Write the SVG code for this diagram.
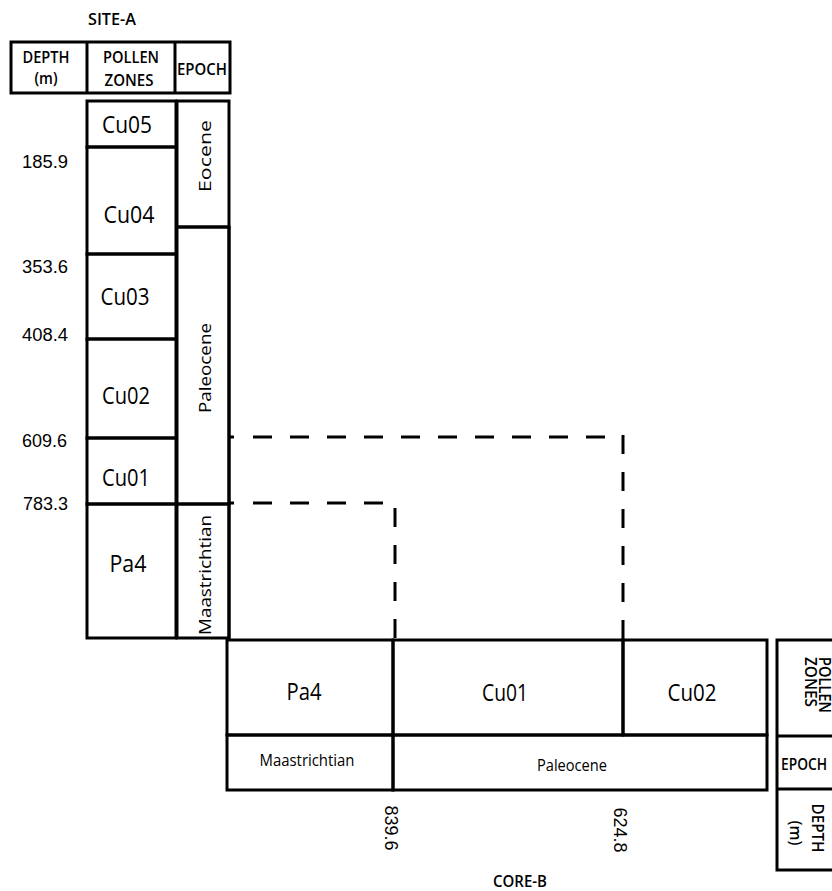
<svg xmlns="http://www.w3.org/2000/svg" width="832" height="891" viewBox="0 0 832 891">
<style>
.box{fill:none;stroke:#000;stroke-width:3}
.dash{fill:none;stroke:#000;stroke-width:3;stroke-dasharray:19 18}
.lbl{font-family:"Open Sans","Noto Sans",sans-serif;fill:#000;text-anchor:middle}
.num{font-family:"Liberation Sans",Arial,sans-serif;fill:#000;font-size:18px}
.z{font-size:23px}
.h{font-size:16px;font-weight:600}
.s{font-size:16px}
.e{font-size:17px}
</style>
<rect width="832" height="891" fill="#fff"/>
<g id="site-a-title"><text class="lbl h" x="112" y="25" textLength="48" lengthAdjust="spacingAndGlyphs">SITE-A</text></g>
<g id="site-a-header">
<rect class="box" x="11" y="42" width="219" height="51"/>
<line class="box" x1="87" y1="42" x2="87" y2="93"/>
<line class="box" x1="175" y1="42" x2="175" y2="93"/>
<text class="lbl h" x="46" y="63" textLength="47" lengthAdjust="spacingAndGlyphs">DEPTH</text>
<text class="lbl h" x="46" y="84" textLength="23" lengthAdjust="spacingAndGlyphs">(m)</text>
<text class="lbl h" x="131" y="63" textLength="56" lengthAdjust="spacingAndGlyphs">POLLEN</text>
<text class="lbl h" x="129" y="86" textLength="49" lengthAdjust="spacingAndGlyphs">ZONES</text>
<text class="lbl h" x="202" y="75" textLength="50" lengthAdjust="spacingAndGlyphs">EPOCH</text>
</g>
<g id="site-a-depths">
<text class="num" x="22" y="168" textLength="46" lengthAdjust="spacingAndGlyphs">185.9</text>
<text class="num" x="22" y="273" textLength="46" lengthAdjust="spacingAndGlyphs">353.6</text>
<text class="num" x="22" y="341" textLength="46" lengthAdjust="spacingAndGlyphs">408.4</text>
<text class="num" x="22" y="447" textLength="45" lengthAdjust="spacingAndGlyphs">609.6</text>
<text class="num" x="23" y="510" textLength="45" lengthAdjust="spacingAndGlyphs">783.3</text>
</g>
<g id="a-cu05"><rect class="box" x="87" y="101" width="89" height="46"/><text class="lbl z" x="127" y="133" textLength="50" lengthAdjust="spacingAndGlyphs">Cu05</text></g>
<g id="a-cu04"><rect class="box" x="87" y="147" width="89" height="107"/><text class="lbl z" x="129" y="223" textLength="51" lengthAdjust="spacingAndGlyphs">Cu04</text></g>
<g id="a-cu03"><rect class="box" x="87" y="254" width="89" height="85"/><text class="lbl z" x="125" y="305" textLength="49" lengthAdjust="spacingAndGlyphs">Cu03</text></g>
<g id="a-cu02"><rect class="box" x="87" y="339" width="89" height="99"/><text class="lbl z" x="126" y="404" textLength="48" lengthAdjust="spacingAndGlyphs">Cu02</text></g>
<g id="a-cu01"><rect class="box" x="87" y="438" width="89" height="66"/><text class="lbl z" x="126" y="486" textLength="48" lengthAdjust="spacingAndGlyphs">Cu01</text></g>
<g id="a-pa4"><rect class="box" x="87" y="504" width="89" height="134"/><text class="lbl z" x="128" y="572" textLength="37" lengthAdjust="spacingAndGlyphs">Pa4</text></g>
<g id="a-eocene"><rect class="box" x="177" y="101" width="52" height="126"/><text class="lbl e" transform="translate(211,156) rotate(-90)" textLength="72" lengthAdjust="spacingAndGlyphs">Eocene</text></g>
<g id="a-paleocene"><rect class="box" x="177" y="227" width="52" height="277"/><text class="lbl e" transform="translate(211,368) rotate(-90)" textLength="90" lengthAdjust="spacingAndGlyphs">Paleocene</text></g>
<g id="a-maastrichtian"><rect class="box" x="177" y="504" width="52" height="134"/><text class="lbl e" transform="translate(211,575) rotate(-90)" textLength="120" lengthAdjust="spacingAndGlyphs">Maastrichtian</text></g>
<g id="b-pa4"><rect class="box" x="227" y="640" width="166" height="95"/><text class="lbl z" x="304" y="700" textLength="35" lengthAdjust="spacingAndGlyphs">Pa4</text></g>
<g id="b-cu01"><rect class="box" x="393" y="640" width="230" height="95"/><text class="lbl z" x="505" y="701" textLength="46" lengthAdjust="spacingAndGlyphs">Cu01</text></g>
<g id="b-cu02"><rect class="box" x="623" y="640" width="144" height="95"/><text class="lbl z" x="692" y="701" textLength="49" lengthAdjust="spacingAndGlyphs">Cu02</text></g>
<g id="b-maastrichtian"><rect class="box" x="227" y="735" width="166" height="55"/><text class="lbl s" x="307" y="766" textLength="95" lengthAdjust="spacingAndGlyphs">Maastrichtian</text></g>
<g id="b-paleocene"><rect class="box" x="393" y="735" width="374" height="55"/><text class="lbl s" x="572" y="771" textLength="70" lengthAdjust="spacingAndGlyphs">Paleocene</text></g>
<g id="core-b-depths">
<text class="num" text-anchor="middle" transform="translate(385,828) rotate(90)" textLength="45" lengthAdjust="spacingAndGlyphs">839.6</text>
<text class="num" text-anchor="middle" transform="translate(614,830) rotate(90)" textLength="45" lengthAdjust="spacingAndGlyphs">624.8</text>
</g>
<g id="core-b-title"><text class="lbl h" x="520" y="887" textLength="54" lengthAdjust="spacingAndGlyphs">CORE-B</text></g>
<g id="core-b-header">
<rect class="box" x="777" y="640" width="70" height="230"/>
<line class="box" x1="777" y1="736" x2="847" y2="736"/>
<line class="box" x1="777" y1="789" x2="847" y2="789"/>
<text class="lbl h" transform="translate(819,685) rotate(90)" textLength="56" lengthAdjust="spacingAndGlyphs">POLLEN</text>
<text class="lbl h" transform="translate(805,682) rotate(90)" textLength="50" lengthAdjust="spacingAndGlyphs">ZONES</text>
<text class="lbl h" x="804" y="770" textLength="46" lengthAdjust="spacingAndGlyphs">EPOCH</text>
<text class="lbl h" transform="translate(812,828) rotate(90)" textLength="49" lengthAdjust="spacingAndGlyphs">DEPTH</text>
<text class="lbl h" transform="translate(790,833) rotate(90)" textLength="25" lengthAdjust="spacingAndGlyphs">(m)</text>
</g>
<g id="connectors">
<line class="box" x1="229" y1="227" x2="229" y2="640"/>
<line class="box" x1="228" y1="437" x2="234" y2="437"/>
<line class="box" x1="228" y1="503" x2="234" y2="503"/>
<path class="dash" d="M253 437 H605"/>
<path class="dash" d="M623 435 V640"/>
<path class="dash" d="M253 503 H383"/>
<path class="dash" d="M395 508 V640"/>
</g>
</svg>
